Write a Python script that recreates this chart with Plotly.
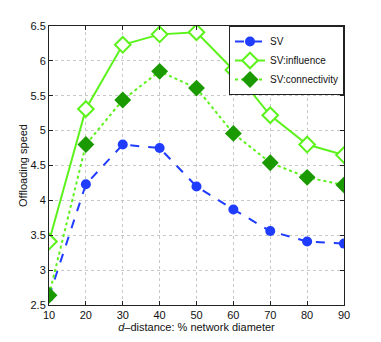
import plotly.graph_objects as go

# --- data ---------------------------------------------------
d_distance = [10, 20, 30, 40, 50, 60, 70, 80, 90]
sv = [2.62, 4.23, 4.80, 4.75, 4.20, 3.87, 3.56, 3.41, 3.38]
sv_influence = [3.41, 5.31, 6.23, 6.38, 6.41, 5.87, 5.22, 4.80, 4.65]
sv_connectivity = [2.64, 4.80, 5.44, 5.85, 5.61, 4.96, 4.54, 4.33, 4.22]

x_ticks = [10, 20, 30, 40, 50, 60, 70, 80, 90]
y_ticks = [2.5, 3, 3.5, 4, 4.5, 5, 5.5, 6, 6.5]

BLUE = "#1f3cff"
LIGHT_GREEN = "#5cf21c"
DARK_GREEN = "#1a9a00"

fig = go.Figure()

fig.add_trace(go.Scatter(
    x=d_distance, y=sv, name="SV", mode="lines+markers",
    line=dict(color=BLUE, width=2, dash="dash"),
    marker=dict(symbol="circle", size=10, color=BLUE),
))
fig.add_trace(go.Scatter(
    x=d_distance, y=sv_influence, name="SV:influence", mode="lines+markers",
    line=dict(color=LIGHT_GREEN, width=2),
    marker=dict(symbol="diamond", size=12, color="white",
                line=dict(color=LIGHT_GREEN, width=2)),
))
fig.add_trace(go.Scatter(
    x=d_distance, y=sv_connectivity, name="SV:connectivity", mode="lines+markers",
    line=dict(color=LIGHT_GREEN, width=2, dash="dot"),
    marker=dict(symbol="diamond", size=13, color=DARK_GREEN,
                line=dict(color=DARK_GREEN, width=0)),
))

axis_style = dict(
    showline=True, linecolor="#222", linewidth=1, mirror="ticks",
    ticks="inside", ticklen=4, tickcolor="#222",
    showgrid=True, gridcolor="#c8c8c8", griddash="dot", gridwidth=1,
    zeroline=False, tickfont=dict(size=11, color="#111"), automargin=False,
)

fig.update_xaxes(
    range=[10, 90], tickvals=x_ticks,
    title=dict(text="<i>d</i>\u2013distance: % network diameter",
               font=dict(size=11, color="#111"), standoff=0),
    **axis_style,
)
fig.update_yaxes(
    range=[2.5, 6.5], tickvals=y_ticks, ticktext=[f"{v:g}" for v in y_ticks],
    title=dict(text="Offloading speed", font=dict(size=11, color="#111"), standoff=0),
    **axis_style,
)

# page body adds an 8px offset, so margins are shifted to compensate
fig.update_layout(
    width=381, height=342,
    margin=dict(l=41, r=45, t=18, b=45),
    paper_bgcolor="white", plot_bgcolor="white",
    font=dict(family="Liberation Sans, Arial, sans-serif", size=11, color="#111"),
    legend=dict(
        x=1, y=1, xanchor="right", yanchor="top",
        bgcolor="white", bordercolor="#222", borderwidth=1,
        font=dict(size=10), tracegroupgap=0, itemwidth=30,
    ),
)

fig.write_html("out.html")
